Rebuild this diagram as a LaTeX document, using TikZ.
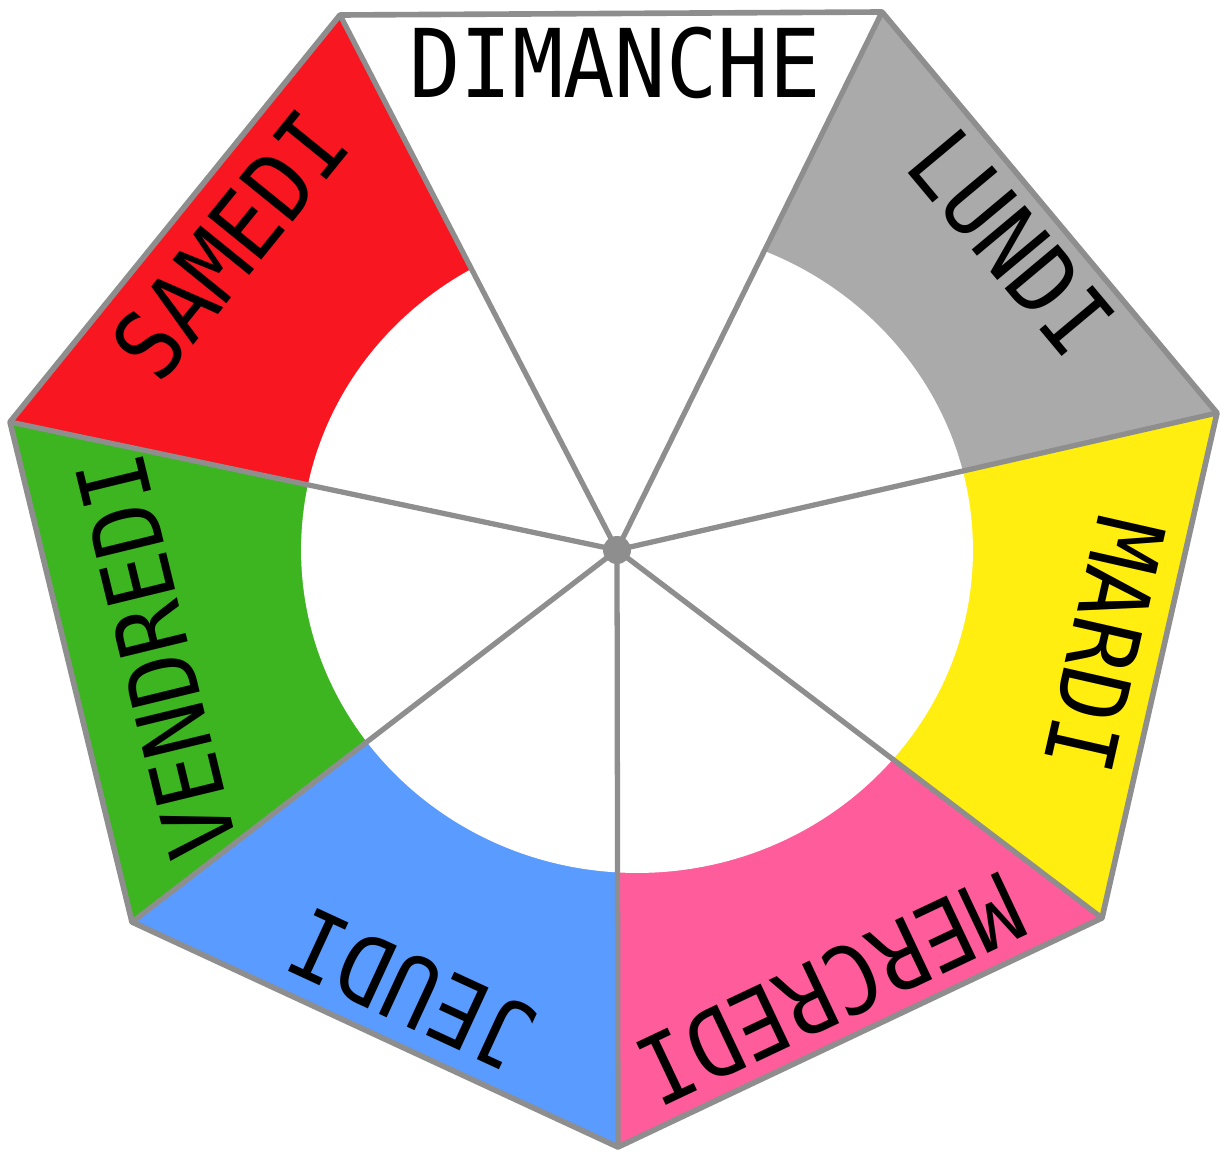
\documentclass[tikz,border=0pt]{standalone}
\usepackage{fontspec}
\usepackage{graphicx}
\usepackage{tikz}
\newfontfamily\dayfont{DejaVu Sans Mono}
\definecolor{rimgray}{HTML}{8E8E8E}
\definecolor{lundigray}{HTML}{AAAAAA}
\definecolor{mardiyellow}{HTML}{FFEE10}
\definecolor{mercredipink}{HTML}{FF5C9B}
\definecolor{jeudiblue}{HTML}{5A9BFF}
\definecolor{vendredigreen}{HTML}{3CB521}
\definecolor{samedired}{HTML}{F81620}
\newcommand{\squeeze}[1]{\scalebox{0.9}[1]{#1}}
\tikzset{
  rim/.style={draw=rimgray, line width=3.2pt, line join=round},
  spoke/.style={draw=rimgray, line width=3pt},
  daylabel/.style={
    font=\dayfont\fontsize{54}{54}\selectfont,
    text=black, inner sep=0pt
  }
}

\begin{document}
\begin{tikzpicture}[x=0.02cm, y=-0.02cm]
    \useasboundingbox (0,0) rectangle (1223,1152);
    % corners of the wheel
    \coordinate (c) at (617,550);
    \coordinate (v1) at (340,15);
    \coordinate (v2) at (882,12);
    \coordinate (v3) at (1217,413);
    \coordinate (v4) at (1102,918);
    \coordinate (v5) at (618,1147);
    \coordinate (v6) at (132,922);
    \coordinate (v7) at (10,422);
    % sectors
    \fill[white] (c)--(v1)--(v2)--cycle;
    \fill[lundigray] (c)--(v2)--(v3)--cycle;
    \fill[mardiyellow] (c)--(v3)--(v4)--cycle;
    \fill[mercredipink] (c)--(v4)--(v5)--cycle;
    \fill[jeudiblue] (c)--(v5)--(v6)--cycle;
    \fill[vendredigreen] (c)--(v6)--(v7)--cycle;
    \fill[samedired] (c)--(v7)--(v1)--cycle;
    % white middle
    \fill[white] (637,550) ellipse [x radius=6.72cm, y radius=6.46cm];
    % spokes and rim
    \draw[spoke] (c)--(v1);
    \draw[spoke] (c)--(v2);
    \draw[spoke] (c)--(v3);
    \draw[spoke] (c)--(v4);
    \draw[spoke] (c)--(v5);
    \draw[spoke] (c)--(v6);
    \draw[spoke] (c)--(v7);
    \draw[rim] (v1)--(v2)--(v3)--(v4)--(v5)--(v6)--(v7)--cycle;
    \fill[rimgray] (c) circle [radius=0.28cm];
    % day names
    \node[daylabel] (dim) at (615,63) {\squeeze{DIMANCHE}};
    \node[daylabel, rotate=-50.1] (lun) at (1011,243) {\squeeze{LUNDI}};
    \node[daylabel, rotate=-102.8] (mar) at (1105,645) {\squeeze{MARDI}};
    \node[daylabel, rotate=-154.7] (mer) at (830,990) {\squeeze{MERCREDI}};
    \node[daylabel, rotate=155.2] (jeu) at (412,990) {\squeeze{JEUDI}};
    \node[daylabel, rotate=103.7] (ven) at (156,656) {\squeeze{VENDREDI}};
    \node[daylabel, rotate=51] (sam) at (230,245) {\squeeze{SAMEDI}};
\end{tikzpicture}
\end{document}
